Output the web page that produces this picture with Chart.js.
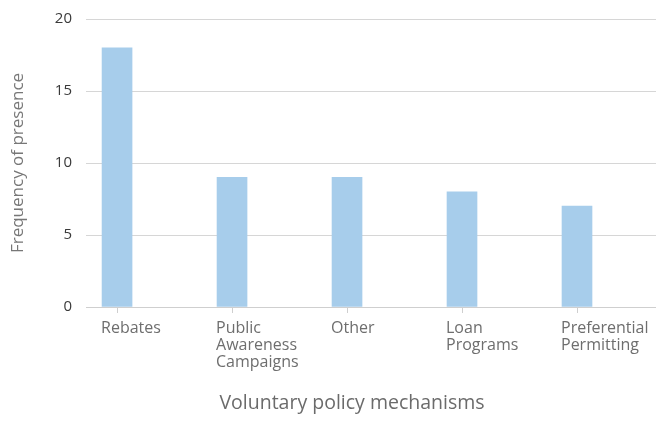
<!DOCTYPE html>
<html>
<head>
<meta charset="utf-8">
<script src="https://cdn.jsdelivr.net/npm/chart.js@4"></script>
<style>
  html, body { margin:0; padding:0; background:#fff; }
  #wrap { width:656px; height:430px; }
</style>
</head>
<body>
<div id="wrap"><canvas id="chart" width="656" height="430"></canvas></div>
<script>
const categories = [
  ["Rebates"],
  ["Public", "Awareness", "Campaigns"],
  ["Other"],
  ["Loan", "Programs"],
  ["Preferential", "Permitting"]
];
const frequency = [18, 9, 9, 8, 7];
const yTicks = [0, 5, 10, 15, 20];

const FONT = "'Open Sans', sans-serif";

// x title sits a bit left of the plot centre in the original
const xTitlePlugin = {
  id: 'xTitle',
  afterDraw(chart){
    const {ctx, chartArea} = chart;
    ctx.save();
    ctx.font = "19.5px " + FONT;
    ctx.fillStyle = '#6b6b6b';
    ctx.textAlign = 'center';
    ctx.textBaseline = 'middle';
    ctx.fillText('Voluntary policy mechanisms', chartArea.left + 266, 403);
    ctx.restore();
  }
};

new Chart(document.getElementById('chart'), {
  type: 'bar',
  data: {
    datasets: [{
      data: frequency.map((v,i) => ({x:i, y:v})),
      backgroundColor: '#a7cdeb',
      barThickness: 30
    }]
  },
  options: {
    responsive: false,
    animation: false,
    layout: { padding: { top: 19, right: 0, left: 8, bottom: 0 } },
    plugins: { legend: { display:false }, tooltip: { enabled:false } },
    scales: {
      x: {
        type: 'linear',
        offset: false,
        min: -0.27,
        max: 4.687,
        afterBuildTicks: s => { s.ticks = categories.map((c,i) => ({value:i})); },
        afterFit: s => { s.height = 123; s.paddingLeft = 0; s.paddingRight = 0; },
        grid: { offset:false, drawOnChartArea:false, drawTicks:true, tickLength:6, color:'#cfcfcf' },
        border: { display:true, color:'#cfcfcf' },
        ticks: {
          autoSkip: false,
          maxRotation: 0,
          align: 'start',
          labelOffset: -16,
          padding: 7,
          color: '#6e6e6e',
          font: { family: FONT, size: 16, lineHeight: 1.07 },
          callback: v => categories[v]
        }
      },
      y: {
        min: 0,
        max: 20,
        afterBuildTicks: s => { s.ticks = yTicks.map(v => ({value:v})); },
        afterFit: s => { s.width = 78; s.paddingTop = 0; s.paddingBottom = 0; },
        grid: { color:'#d6d6d6', drawTicks:false },
        border: { display:false },
        ticks: {
          padding: 14,
          color: '#3a3a3a',
          font: { family: FONT, size: 15, lineHeight: 1 }
        },
        title: {
          display: true,
          text: 'Frequency of presence',
          color: '#777',
          font: { family: FONT, size: 17 },
          padding: { top:0, bottom:0 }
        }
      }
    }
  },
  plugins: [xTitlePlugin]
});
</script>
</body>
</html>
